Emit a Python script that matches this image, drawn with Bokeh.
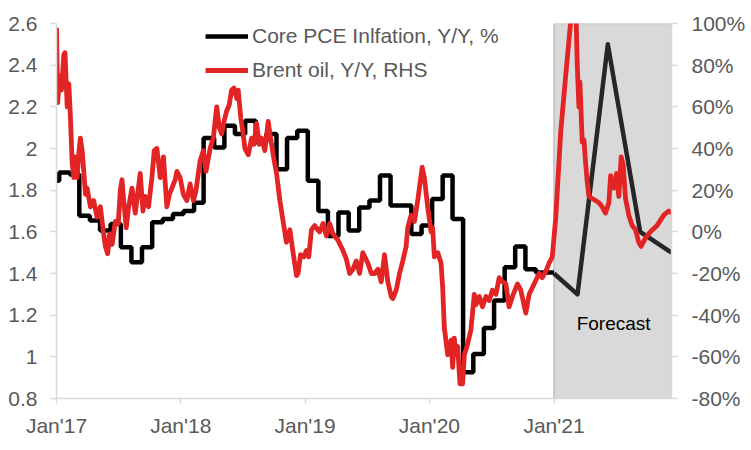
import pandas as pd
from bokeh.plotting import figure
from bokeh.models import (Range1d, LinearAxis, FixedTicker, PrintfTickFormatter,
                          CustomJSTickFormatter, DatetimeTickFormatter, Legend,
                          LegendItem, ColumnDataSource, Label)
from bokeh.core.properties import value
from bokeh.embed import file_html
from bokeh.resources import INLINE

# ---------------- data ----------------
# Core PCE, Y/Y % (monthly, Dec 2016 .. Dec 2020), shown as steps
pce_months = pd.date_range("2016-12-01", "2020-12-01", freq="MS")
pce_values = [1.845,
              1.885, 1.875, 1.677, 1.654, 1.606, 1.638, 1.526, 1.454, 1.526, 1.646, 1.662, 1.686,
              1.70, 1.74, 2.05, 2.005, 2.109, 2.07, 2.133, 2.03, 2.07, 1.90, 2.05, 2.085,
              1.845, 1.70, 1.58, 1.693, 1.606, 1.717, 1.75, 1.87, 1.726, 1.726, 1.59, 1.63,
              1.758, 1.87, 1.662, 0.926, 1.014, 1.138, 1.27, 1.43, 1.53, 1.42, 1.405, 1.405]

# Core PCE forecast path
forecast_dates = ["2021-01-01", "2021-03-11", "2021-06-08", "2021-09-11", "2021-12-12"]
forecast_values = [1.40, 1.30, 2.50, 1.60, 1.50]

# Brent oil Y/Y %, (decimal year, value)
brent_year = [
    2017.000, 2017.010, 2017.024, 2017.040, 2017.059, 2017.068, 2017.086, 2017.099, 2017.112, 2017.126,
    2017.139, 2017.152, 2017.166, 2017.180, 2017.192, 2017.208, 2017.233, 2017.246, 2017.273, 2017.299,
    2017.326, 2017.353, 2017.379, 2017.393, 2017.411, 2017.427, 2017.447, 2017.473, 2017.497, 2017.513,
    2017.527, 2017.540, 2017.561, 2017.580, 2017.607, 2017.633, 2017.652, 2017.673, 2017.695, 2017.713,
    2017.740, 2017.767, 2017.786, 2017.807, 2017.834, 2017.860, 2017.887, 2017.908, 2017.928, 2017.954,
    2017.968, 2017.994,
    2018.020, 2018.048, 2018.074, 2018.101, 2018.122, 2018.154, 2018.181, 2018.202, 2018.235, 2018.261,
    2018.288, 2018.309, 2018.328, 2018.347, 2018.368, 2018.389, 2018.408, 2018.427, 2018.449, 2018.461,
    2018.481, 2018.501, 2018.515, 2018.542, 2018.569, 2018.587, 2018.609, 2018.630, 2018.649, 2018.675,
    2018.702, 2018.721, 2018.742, 2018.769, 2018.796, 2018.822, 2018.849, 2018.876, 2018.902, 2018.930,
    2018.942, 2018.962, 2018.988,
    2019.010, 2019.028, 2019.050, 2019.076, 2019.100, 2019.116, 2019.143, 2019.170, 2019.196, 2019.223,
    2019.263, 2019.303, 2019.330, 2019.357, 2019.383, 2019.410, 2019.437, 2019.463, 2019.503, 2019.531,
    2019.557, 2019.584, 2019.611, 2019.637, 2019.664, 2019.691, 2019.704, 2019.731, 2019.758, 2019.784,
    2019.811, 2019.824, 2019.851, 2019.878, 2019.904, 2019.940, 2019.958, 2019.984,
    2020.012, 2020.024, 2020.038, 2020.065, 2020.092, 2020.105, 2020.118, 2020.145, 2020.172, 2020.185,
    2020.198, 2020.212, 2020.225, 2020.244, 2020.265, 2020.279, 2020.305, 2020.332, 2020.359, 2020.372,
    2020.399, 2020.425, 2020.453, 2020.479, 2020.505, 2020.533, 2020.559, 2020.586, 2020.613, 2020.639,
    2020.666, 2020.706, 2020.733, 2020.773, 2020.800, 2020.840, 2020.880, 2020.906, 2020.934, 2020.960,
    2020.986,
    2021.014, 2021.054, 2021.094, 2021.134, 2021.156, 2021.179, 2021.187, 2021.200, 2021.208, 2021.227,
    2021.241, 2021.254, 2021.267, 2021.281, 2021.307, 2021.334, 2021.361, 2021.387, 2021.414, 2021.441,
    2021.455, 2021.481, 2021.503, 2021.521, 2021.540, 2021.556, 2021.575, 2021.601, 2021.628, 2021.655,
    2021.681, 2021.700, 2021.735, 2021.775, 2021.828, 2021.882, 2021.922, 2021.948]
brent_yoy = [
    98, 62, 75, 68, 85, 86, 60, 71, 55, 33,
    26, 36, 26, 38, 45, 38, 18, 21, 12, 15,
    7, 12, -1, -7, -10.5, -1, -6, 5, 4, 20,
    25, 15, 2, 12, 21, 9, 18, 28, 10, 17,
    12, 26, 39, 40, 26, 36, 12, 18, 21, 25,
    29, 26,
    18, 15, 23, 15, 20, 34, 39, 29, 40, 45,
    60, 50, 47, 53, 58, 61, 68, 69, 64, 68,
    55, 47, 40, 37, 45, 42, 52, 42, 45, 39,
    53, 45, 37, 28, 15, 5, -5, 1, -10, -21,
    -20, -11, -12,
    -9, -12, 1, 3, 1, 0, 4, -2, 4, -1,
    -4, -9, -13, -20, -18, -14, -20, -10, -15, -20,
    -20, -18, -24, -11, -24, -31, -32, -28, -20, -14,
    -7, 2, 8, 5, 15, 31, 26, 12,
    0, 2, -12, -10, -15, -27, -46, -59, -52, -65,
    -51, -59, -55, -73, -73, -59, -54, -47, -30, -35,
    -31, -36, -31, -33, -28, -30, -22, -24, -25, -36,
    -31, -25, -28, -39, -30, -25, -20, -22, -19, -15,
    -12,
    7, 48, 75, 101, 135, 99, 80, 60, 72, 43,
    44, 33, 24, 17, 16, 15, 14, 12, 9, 14,
    27, 21, 28, 17, 36, 32, 16, 8, 3, 1,
    -5, -7, -3, 0, 3, 8, 10, 9]

x_tick_dates = ["2017-01-01", "2018-01-01", "2019-01-01", "2020-01-01", "2021-01-01"]
left_ticks = [0.8, 1.0, 1.2, 1.4, 1.6, 1.8, 2.0, 2.2, 2.4, 2.6]
right_ticks = [-80, -60, -40, -20, 0, 20, 40, 60, 80, 100]
forecast_start = "2021-01-01"
x_start = "2017-01-01"
x_end = "2021-12-12"

# ---------------- derived ----------------
base = pd.Timestamp("2017-01-01")
brent_dates = [base + pd.Timedelta(days=(t - 2017) * 365.25) for t in brent_year]
step_x = [pd.Timestamp(x_start)] + [m + pd.Timedelta(days=8) for m in pce_months[1:]] + [pd.Timestamp(forecast_start)]
step_y = list(pce_values) + [pce_values[-1]]

def ms(d):
    return pd.Timestamp(d).timestamp() * 1000.0

FONT = "Liberation Sans"
GREY_TXT = "#595959"
AXIS_GREY = "#d9d9d9"

p = figure(width=748, height=442, x_axis_type="datetime",
           x_range=Range1d(pd.Timestamp(x_start), pd.Timestamp(x_end)),
           y_range=Range1d(0.8, 2.6),
           output_backend="svg", toolbar_location=None,
           min_border_left=56, min_border_right=75, min_border_top=23, min_border_bottom=44)
p.outline_line_color = None
p.xgrid.visible = False
p.ygrid.visible = False
p.background_fill_color = "white"
p.border_fill_color = "white"
p.extra_y_ranges = {"oil": Range1d(-80, 100)}

# forecast shading
p.quad(left=[pd.Timestamp(forecast_start)], right=[pd.Timestamp(x_end)], bottom=[0.8], top=[2.6],
       fill_color="#d9d9d9", line_color="#bfbfbf", line_width=1.5)

pce_r = p.step(step_x, step_y, mode="after", line_color="#000000", line_width=4.5)
fc_src = ColumnDataSource(dict(x=[pd.Timestamp(d) for d in forecast_dates], y=forecast_values))
p.line("x", "y", source=fc_src, line_color="#262626", line_width=4.5, line_join="round")

br_src = ColumnDataSource(dict(x=brent_dates, y=brent_yoy))
brent_r = p.line("x", "y", source=br_src, y_range_name="oil", line_color="#E32424",
                 line_width=4.8, line_join="round")

p.add_layout(Label(x=ms("2021-06-25"), y=1.16, text="Forecast", text_font=FONT,
                   text_font_size="19px", text_color="#000000",
                   text_align="center", text_baseline="middle"))

def style(ax):
    ax.axis_line_color = AXIS_GREY
    ax.axis_line_width = 1.5
    ax.major_tick_line_color = AXIS_GREY
    ax.major_tick_line_width = 1.5
    ax.major_tick_in = 0
    ax.major_tick_out = 6
    ax.minor_tick_line_color = None
    ax.major_label_text_font = FONT
    ax.major_label_text_font_size = "21px"
    ax.major_label_text_color = GREY_TXT

# left axis
yl = p.yaxis[0]
yl.ticker = FixedTicker(ticks=left_ticks)
yl.formatter = CustomJSTickFormatter(code="return String(Number(tick.toFixed(1)));")
style(yl)
yl.major_label_standoff = 13

# right axis
yr = LinearAxis(y_range_name="oil", ticker=FixedTicker(ticks=right_ticks),
                formatter=PrintfTickFormatter(format="%d%%"))
style(yr)
yr.major_label_standoff = 14
p.add_layout(yr, "right")

# bottom axis
xa = p.xaxis[0]
xa.ticker = FixedTicker(ticks=[ms(d) for d in x_tick_dates])
xa.formatter = DatetimeTickFormatter(days="%b'%y", months="%b'%y", years="%b'%y")
style(xa)
xa.major_tick_out = 5
xa.major_label_standoff = 10

legend = Legend(items=[LegendItem(label="Core PCE Inlfation, Y/Y, %", renderers=[pce_r]),
                       LegendItem(label="Brent oil, Y/Y, RHS", renderers=[brent_r])],
                location=(149, 316), orientation="vertical",
                glyph_width=43, glyph_height=24, label_height=24, spacing=10,
                padding=0, margin=0, label_standoff=4,
                label_text_font=FONT, label_text_font_size="21px",
                label_text_color=GREY_TXT, label_text_baseline="middle",
                background_fill_alpha=0, border_line_alpha=0)
p.add_layout(legend)

open("out.html", "w").write(file_html(p, INLINE))
